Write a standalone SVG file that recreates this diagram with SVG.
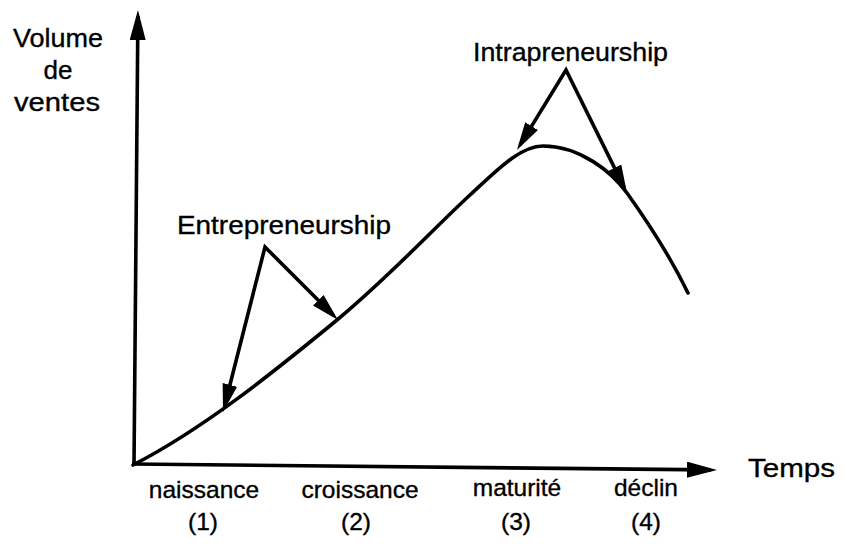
<svg xmlns="http://www.w3.org/2000/svg" width="849" height="545" viewBox="0 0 849 545">
  <style>
    text { font-family: "Liberation Sans", Arial, Helvetica, sans-serif; fill: #000; stroke: #000; stroke-width: 0.35; }
    .big { font-size: 26px; }
    .axis-label { font-size: 26px; }
    .phase { font-size: 24.5px; text-anchor: middle; }
    .line { fill: none; stroke: #000; stroke-width: 3.6; stroke-linejoin: miter; }
    .curve { fill: none; stroke: #000; stroke-width: 3.6; stroke-linecap: round; }
  </style>
  <defs>
    <marker id="head" markerUnits="userSpaceOnUse" markerWidth="30" markerHeight="16"
            refX="22" refY="7.5" orient="auto-start-reverse">
      <path d="M0,0 L28,7.5 L0,15 Z" fill="#000"/>
    </marker>
    <marker id="axisHead" markerUnits="userSpaceOnUse" markerWidth="32" markerHeight="17"
            refX="24" refY="8" orient="auto">
      <path d="M0,0 L30,8 L0,16 Z" fill="#000"/>
    </marker>
  </defs>

  <!-- axes -->
  <g id="axes">
    <path class="line" d="M134,466 L137.9,16" marker-end="url(#axisHead)"/>
    <path class="line" d="M132,464 L711,469.9" marker-end="url(#axisHead)"/>
  </g>

  <!-- sales curve over the life cycle -->
  <g id="curve">
    <path class="curve" d="M133,465 C201,430 269,376 337,320 C391,275 430,232 470,195 C497,170 520,146 543,146 C580,146 612,172 627,193 C647,221 672,260 688,293"/>
  </g>

  <!-- axis titles -->
  <g id="y-label">
    <text class="axis-label" x="58" y="47" text-anchor="middle" textLength="90" lengthAdjust="spacingAndGlyphs">Volume</text>
    <text class="axis-label" x="58" y="79" text-anchor="middle">de</text>
    <text class="axis-label" x="57" y="111" text-anchor="middle" textLength="86" lengthAdjust="spacingAndGlyphs">ventes</text>
  </g>
  <g id="x-label">
    <text class="axis-label" x="748" y="477" textLength="87" lengthAdjust="spacingAndGlyphs">Temps</text>
  </g>

  <!-- phases -->
  <g id="phase-1">
    <text class="phase" x="204" y="498">naissance</text>
    <text class="phase" x="203" y="530">(1)</text>
  </g>
  <g id="phase-2">
    <text class="phase" x="360" y="498">croissance</text>
    <text class="phase" x="356" y="530">(2)</text>
  </g>
  <g id="phase-3">
    <text class="phase" x="517" y="496">maturité</text>
    <text class="phase" x="516" y="530">(3)</text>
  </g>
  <g id="phase-4">
    <text class="phase" x="646" y="496">déclin</text>
    <text class="phase" x="646" y="530">(4)</text>
  </g>

  <!-- annotations -->
  <g id="entrepreneurship">
    <text class="big" x="177" y="234" textLength="214" lengthAdjust="spacingAndGlyphs">Entrepreneurship</text>
  </g>
  <g id="intrapreneurship">
    <text class="big" x="473" y="61" textLength="195" lengthAdjust="spacingAndGlyphs">Intrapreneurship</text>
  </g>

  <!-- pointers from the labels to the curve -->
  <g id="connectors">
    <path class="line" d="M224.5,406.2 L265,247 L333.8,315.8" marker-start="url(#head)" marker-end="url(#head)"/>
    <path class="line" d="M520.1,144.9 L566,70 L624.3,187.6" marker-start="url(#head)" marker-end="url(#head)"/>
  </g>
</svg>
